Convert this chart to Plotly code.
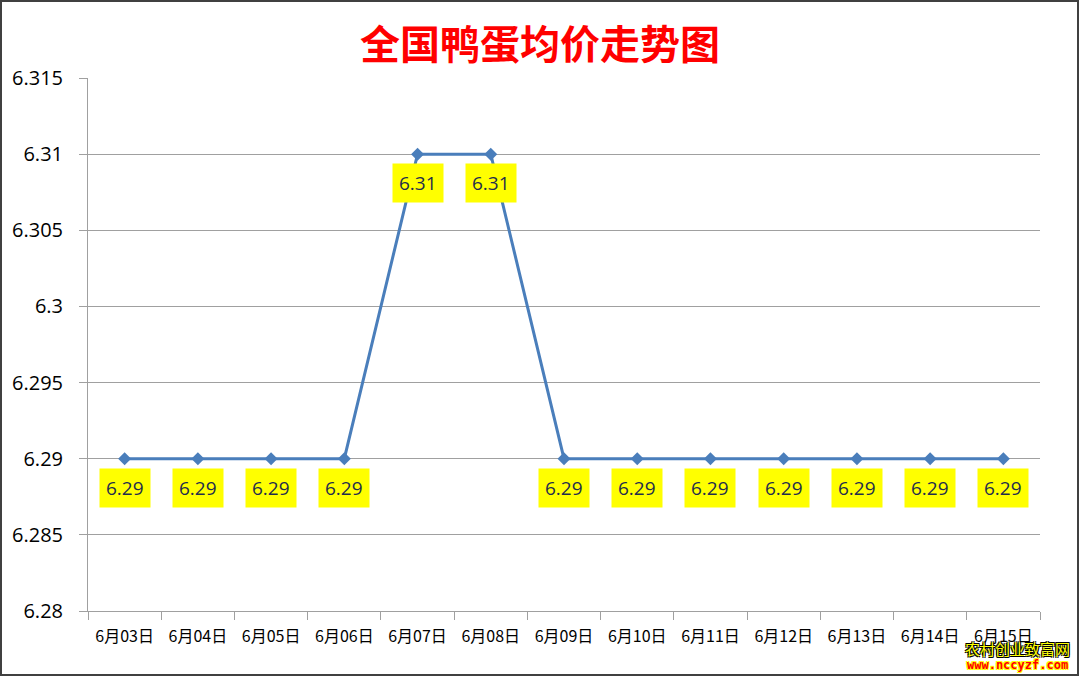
import plotly.graph_objects as go

dates = ["6月03日", "6月04日", "6月05日", "6月06日", "6月07日", "6月08日", "6月09日",
         "6月10日", "6月11日", "6月12日", "6月13日", "6月14日", "6月15日"]
prices = [6.29, 6.29, 6.29, 6.29, 6.31, 6.31, 6.29, 6.29, 6.29, 6.29, 6.29, 6.29, 6.29]
y_ticks = [6.28, 6.285, 6.29, 6.295, 6.3, 6.305, 6.31, 6.315]
y_tick_text = ["6.28", "6.285", "6.29", "6.295", "6.3", "6.305", "6.31", "6.315"]
title_text = "全国鸭蛋均价走势图"

W, H = 1080, 677
ML, MR, MT, MB = 88, 40, 78, 66
PW, PH = W - ML - MR, H - MT - MB

def px_x(p):
    return (p - ML) / PW

def px_y(p):
    return 1 - (p - MT) / PH

fig = go.Figure()
fig.add_trace(go.Scatter(
    x=dates, y=prices, mode="lines+markers",
    line=dict(color="#4A7EBB", width=3),
    marker=dict(symbol="diamond", size=10, color="#4A7EBB"),
    hoverinfo="skip", showlegend=False,
))

annotations = []
for d, v in zip(dates, prices):
    annotations.append(dict(
        x=d, y=v, xref="x", yref="y", text=f"{v:.2f}", showarrow=False,
        yshift=-29, bgcolor="#FFFF00", borderpad=6,
        font=dict(family="Open Sans, Noto Sans", size=19, color="#1F2D4D"),
    ))

annotations.append(dict(
    x=px_x(540), y=px_y(42), xref="paper", yref="paper", text=f"<b>{title_text}</b>",
    showarrow=False, font=dict(family="Noto Sans CJK SC", size=40, color="#FF0000"),
    xanchor="center", yanchor="middle",
))
annotations.append(dict(
    x=px_x(1017), y=px_y(648), xref="paper", yref="paper", text="农村创业致富网",
    showarrow=False, xanchor="center", yanchor="middle",
    font=dict(family="Noto Sans CJK SC", size=15, color="#FFFF00",
              shadow="1px 1px 0 #000, -1px -1px 0 #000, 1px -1px 0 #000, -1px 1px 0 #000"),
))
annotations.append(dict(
    x=px_x(1017), y=px_y(665), xref="paper", yref="paper", text="<b>www.nccyzf.com</b>",
    showarrow=False, xanchor="center", yanchor="middle",
    font=dict(family="DejaVu Sans Mono", size=12, color="#FF0000",
              shadow="1px 1px 0 #FF0, -1px -1px 0 #FF0, 1px -1px 0 #FF0, -1px 1px 0 #FF0"),
))

shapes = [dict(
    type="rect", xref="paper", yref="paper",
    x0=px_x(1), x1=px_x(W - 2), y0=px_y(H - 2), y1=px_y(1),
    line=dict(color="#404040", width=2), fillcolor="rgba(0,0,0,0)", layer="above",
)]

fig.update_layout(
    width=W, height=H,
    margin=dict(l=ML, r=MR, t=MT, b=MB),
    paper_bgcolor="white", plot_bgcolor="white",
    annotations=annotations, shapes=shapes,
    xaxis=dict(
        type="category", range=[-0.5, 12.5], tickson="boundaries",
        ticks="outside", ticklen=8, tickcolor="#A0A0A0",
        showline=True, linecolor="#A0A0A0", linewidth=1,
        showgrid=False, zeroline=False,
        tickfont=dict(family="Noto Sans CJK SC", size=16, color="#000000"),
        ticklabelstandoff=11,
    ),
    yaxis=dict(
        range=[6.28, 6.315], tickvals=y_ticks, ticktext=y_tick_text,
        ticks="outside", ticklen=8, tickcolor="#A0A0A0",
        showline=True, linecolor="#A0A0A0", linewidth=1,
        showgrid=True, gridcolor="#A0A0A0", gridwidth=1, zeroline=False,
        tickfont=dict(family="Open Sans, Noto Sans", size=20, color="#000000"),
        ticklabelstandoff=12,
    ),
)

fig.write_html("out.html", config={"displayModeBar": False},
               post_script="document.body.style.margin='0';document.body.style.overflow='hidden';")
